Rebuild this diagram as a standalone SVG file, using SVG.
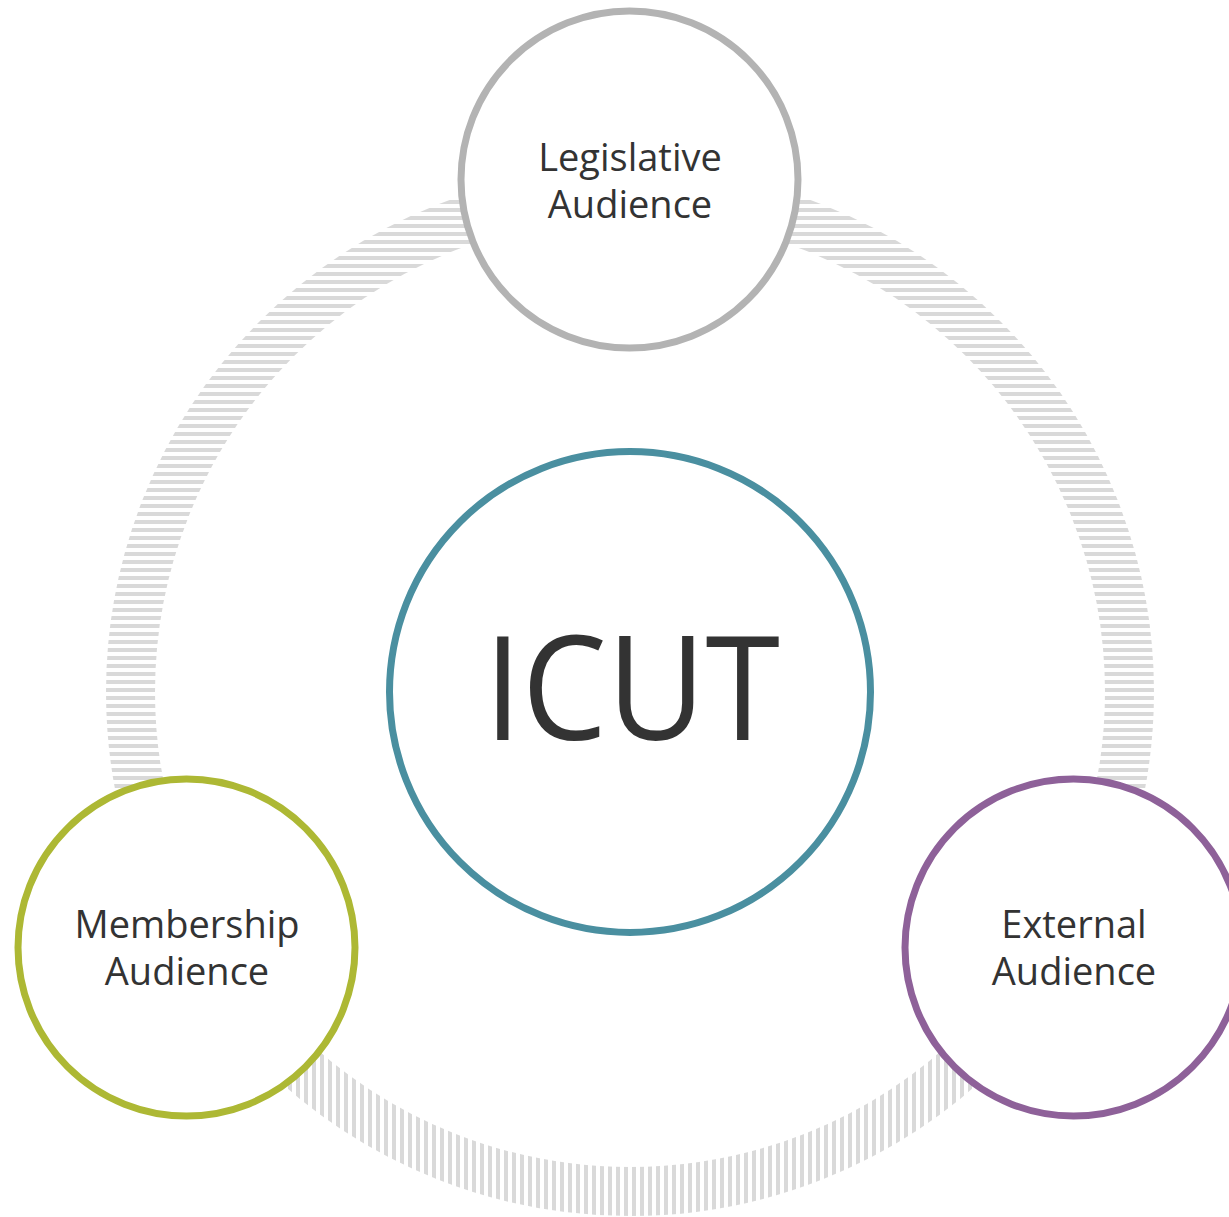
<svg xmlns="http://www.w3.org/2000/svg" width="1229" height="1217" viewBox="0 0 1229 1217">
<style>
.node{fill:#ffffff;stroke-width:7}
.lbl{font-family:"Open Sans","Noto Sans","DejaVu Sans",sans-serif;font-size:38px;fill:#333333;text-anchor:middle}
.big{font-family:"Open Sans","Noto Sans","DejaVu Sans",sans-serif;font-size:144px;fill:#333333;text-anchor:middle}
</style>
<defs>
<pattern id="hs" patternUnits="userSpaceOnUse" x="0" y="0" width="8" height="8">
<rect x="0" y="0" width="8" height="4" fill="#d9d9d9"/>
</pattern>
<pattern id="vs" patternUnits="userSpaceOnUse" x="0" y="0" width="8" height="8">
<rect x="0" y="0" width="4" height="8" fill="#d9d9d9"/>
</pattern>
<clipPath id="upper"><rect x="0" y="0" width="1229" height="947"/></clipPath>
<clipPath id="lower"><rect x="0" y="947" width="1229" height="270"/></clipPath>
</defs>
<g id="connectors">
<circle cx="630" cy="692" r="499.5" fill="none" stroke="url(#hs)" stroke-width="49" clip-path="url(#upper)"/>
<circle cx="630" cy="692" r="499.5" fill="none" stroke="url(#vs)" stroke-width="49" clip-path="url(#lower)"/>
</g>
<g id="icut">
<circle class="node" cx="630" cy="692" r="240.5" stroke="#4a8fa0"/>
<text class="big" x="632" y="740" textLength="296" lengthAdjust="spacingAndGlyphs">ICUT</text>
</g>
<g id="legislative">
<circle class="node" cx="629.5" cy="179.5" r="168.5" stroke="#b3b3b3"/>
<text class="lbl" x="630" y="171">Legislative</text>
<text class="lbl" x="630" y="218">Audience</text>
</g>
<g id="membership">
<circle class="node" cx="186.5" cy="947.5" r="168.5" stroke="#adb834"/>
<text class="lbl" x="187" y="938">Membership</text>
<text class="lbl" x="187" y="985">Audience</text>
</g>
<g id="external">
<circle class="node" cx="1073.5" cy="947.5" r="168.5" stroke="#8e6199"/>
<text class="lbl" x="1074" y="938">External</text>
<text class="lbl" x="1074" y="985">Audience</text>
</g>
</svg>
